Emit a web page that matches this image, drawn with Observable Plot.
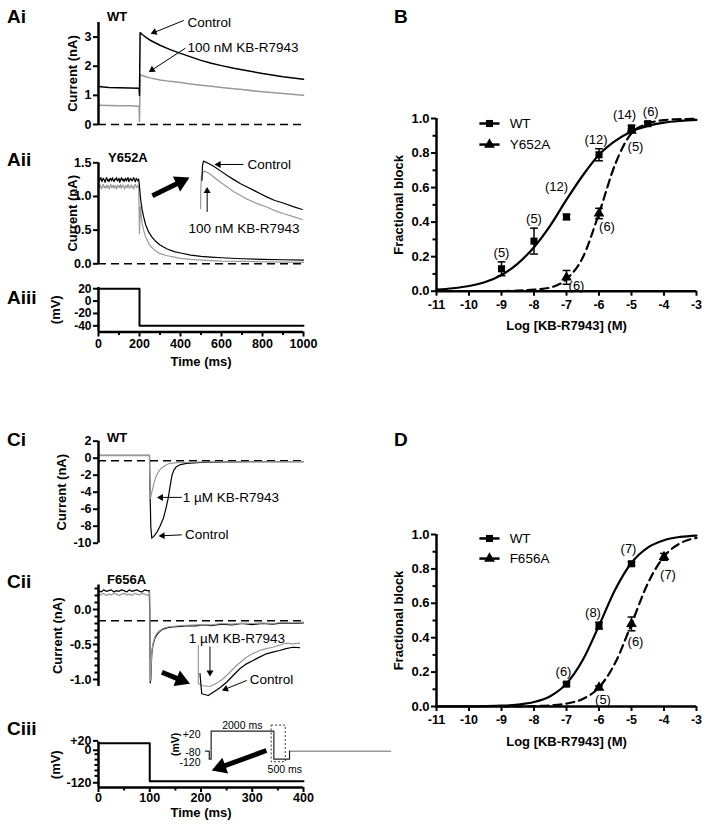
<!DOCTYPE html>
<html><head><meta charset="utf-8">
<script src="https://cdn.jsdelivr.net/npm/d3@7"></script>
<script src="https://cdn.jsdelivr.net/npm/@observablehq/plot@0.6"></script>
<style>
body{margin:0;background:#fff;}
#fig{position:relative;width:709px;height:828px;overflow:hidden;font-family:"Liberation Sans",Arial,sans-serif;background:#fff;}
.lab{position:absolute;font-weight:bold;line-height:1;transform:translateY(-50%);white-space:nowrap;color:#000;}
</style></head><body><div id="fig"></div>
<script>
// ================= DATA =================
// Ai : WT, control vs 100 nM KB-R7943 (time ms, current nA)
const aiTime    = [0, 50, 100, 150, 198, 200, 203, 215, 230, 250, 300, 350, 400, 450, 500, 550, 600, 660, 700, 800, 900, 1000];
const aiControl = [1.30, 1.27, 1.26, 1.25, 1.24, 1.00, 3.15, 3.08, 3.00, 2.90, 2.72, 2.57, 2.44, 2.32, 2.20, 2.10, 2.02, 1.93, 1.88, 1.75, 1.64, 1.55];
const aiDrug    = [0.66, 0.65, 0.64, 0.64, 0.63, 0.10, 1.70, 1.68, 1.64, 1.60, 1.53, 1.48, 1.44, 1.39, 1.35, 1.31, 1.27, 1.23, 1.20, 1.12, 1.06, 1.00];

// Aii : Y652A — noisy holding segment sampled every 4 ms, then the tail
const aiiBaseTime    = d3.range(0, 200, 4);
const aiiBaseControl = [1.27,1.23,1.26,1.28,1.22,1.25,1.27,1.24,1.21,1.26,1.28,1.23,1.25,1.22,1.27,1.26,1.23,1.28,1.24,1.22,1.26,1.25,1.28,1.23,1.24,1.27,1.21,1.25,1.28,1.24,1.26,1.22,1.25,1.27,1.23,1.26,1.28,1.22,1.24,1.27,1.25,1.23,1.26,1.28,1.24,1.22,1.27,1.25,1.23,1.26];
const aiiBaseDrug    = [1.16,1.12,1.17,1.14,1.11,1.16,1.18,1.13,1.15,1.12,1.17,1.14,1.16,1.11,1.15,1.18,1.13,1.14,1.17,1.12,1.16,1.15,1.11,1.17,1.14,1.16,1.13,1.18,1.12,1.15,1.17,1.14,1.11,1.16,1.15,1.13,1.18,1.14,1.12,1.16,1.17,1.13,1.15,1.11,1.16,1.18,1.14,1.13,1.17,1.15];
const aiiTailTime    = [200,204,208,213,220,230,245,260,280,300,335,370,400,450,500,550,600,700,800,900,1000];
const aiiTailControl = [1.15,1.00,0.90,0.80,0.70,0.58,0.47,0.40,0.33,0.28,0.22,0.18,0.16,0.13,0.11,0.10,0.09,0.075,0.065,0.06,0.055];
const aiiTailDrug    = [0.45,0.85,0.72,0.60,0.50,0.40,0.30,0.24,0.19,0.15,0.12,0.10,0.08,0.065,0.055,0.048,0.04,0.035,0.03,0.025,0.02];
// Aii inset (magnified tail, drawn in the panel's own units)
const aiiInsetTimeC = [505,507,512,530,562,595,628,660,693,725,758,790,823,860,904,950,994];
const aiiInsetC     = [1.24,1.45,1.525,1.50,1.45,1.38,1.31,1.25,1.19,1.14,1.09,1.04,0.99,0.94,0.90,0.85,0.807];
const aiiInsetTimeD = [498,499,502,510,518,540,562,595,628,660,693,725,758,790,823,860,904,950,994];
const aiiInsetD     = [0.82,1.10,1.30,1.36,1.376,1.34,1.29,1.21,1.14,1.07,1.015,0.96,0.915,0.875,0.84,0.79,0.743,0.70,0.658];

// Aiii : voltage protocol
const aiiiTime = [0, 200, 200, 1000];
const aiiiVolt = [20, 20, -40, -40];

// B : concentration-response, WT vs Y652A
const bLogConc   = [-9, -8, -7, -6, -5, -4.5];
const bWTBlock   = [0.13, 0.29, 0.43, 0.79, 0.945, 0.97];
const bWTErr     = [0.04, 0.075, 0.015, 0.035, 0.015, 0.01];
const bWTn       = [5, 5, 12, 12, 14, 6];
const bYLogConc  = [-7, -6, -5];
const bYBlock    = [0.08, 0.45, 0.93];
const bYErr      = [0.04, 0.03, 0.01];
const bYn        = [6, 6, 5];
const fitLogConc = [-11,-10.5,-10,-9.5,-9,-8.5,-8,-7.5,-7,-6.5,-6,-5.5,-5,-4.5,-4,-3.5,-3];
const bWTFit     = [0.009,0.017,0.03,0.053,0.094,0.16,0.255,0.38,0.53,0.67,0.79,0.87,0.925,0.957,0.976,0.986,0.992];
const bYFit      = [null,null,null,null,0.001,0.003,0.009,0.021,0.07,0.195,0.45,0.736,0.915,0.97,0.991,0.996,0.999];

// Ci : WT tail current, control vs 1 µM KB-R7943
const ciTime    = [0, 99.5, 100, 102, 104, 108, 115, 120, 127, 132, 136, 140, 143, 147, 152, 160, 172, 200, 250, 300, 400];
const ciControl = [0.35, 0.35, -2.0, -8.0, -9.4, -9.2, -8.6, -8.0, -7.0, -5.8, -4.7, -3.2, -2.1, -1.4, -1.0, -0.75, -0.6, -0.5, -0.45, -0.42, -0.4];
const ciDrugTime = [0, 99.5, 100, 101.5, 104, 108, 112, 117, 122, 130, 139, 160, 200, 300, 400];
const ciDrug     = [0.3, 0.3, -2.0, -4.7, -4.0, -3.0, -2.2, -1.6, -1.2, -0.85, -0.6, -0.5, -0.45, -0.42, -0.4];

// Cii : F656A
const ciiTime    = [0,5,10,15,20,25,30,35,40,45,50,55,60,65,70,75,80,85,90,95,99,100,101,102,103,104,106,108,110,114,120,126,135,145,160,175,190,205,220,240,260,280,300,320,340,360,380,400];
const ciiControl = [0.27,0.25,0.28,0.26,0.27,0.28,0.25,0.27,0.26,0.28,0.27,0.25,0.28,0.26,0.27,0.28,0.26,0.25,0.28,0.27,0.27,0.0,-1.05,-1.0,-0.8,-0.62,-0.52,-0.46,-0.41,-0.36,-0.31,-0.28,-0.26,-0.25,-0.24,-0.23,-0.235,-0.22,-0.23,-0.21,-0.22,-0.2,-0.215,-0.2,-0.21,-0.19,-0.2,-0.19];
const ciiDrug    = [0.22,0.21,0.23,0.2,0.22,0.21,0.23,0.22,0.2,0.22,0.23,0.21,0.22,0.2,0.23,0.22,0.21,0.23,0.22,0.2,0.22,0.25,-1.02,-0.95,-0.75,-0.6,-0.5,-0.44,-0.39,-0.34,-0.3,-0.27,-0.25,-0.24,-0.23,-0.225,-0.22,-0.215,-0.22,-0.2,-0.21,-0.195,-0.2,-0.19,-0.2,-0.185,-0.19,-0.18];
// Cii inset (magnified tail)
const ciiInsetTimeC = [198,201.4,214.2,223.9,236.9,249.9,262.7,275.7,288,301.6,314,327.6,340,353.4,366,379.2,392.2];
const ciiInsetC     = [-0.914,-1.204,-1.229,-1.181,-1.119,-1.039,-0.943,-0.847,-0.78,-0.729,-0.68,-0.633,-0.61,-0.586,-0.56,-0.539,-0.545];
const ciiInsetTimeD = [194.8,194.8,201.4,217.5,230.5,243.3,256.3,269.3,288.7,301,314.6,327,340.4,353,366.4,379,392.2];
const ciiInsetD     = [-0.514,-1.057,-1.086,-1.1,-1.053,-0.99,-0.896,-0.8,-0.681,-0.63,-0.586,-0.56,-0.539,-0.51,-0.481,-0.49,-0.481];

// Ciii : protocol and inset protocol
const ciiiTime = [0, 100, 100, 400];
const ciiiVolt = [20, 20, -120, -120];
const protoTime = [0, 120, 120, 180, 180, 2180, 2180, 2680, 2680];
const protoVolt = [-80, -80, -120, -120, 20, 20, -120, -120, -80];
const protoTailTime = [2680, 5900];
const protoTailVolt = [-80, -80];

// D : concentration-response, WT vs F656A
const dWTLogConc = [-7, -6, -5];
const dWTBlock   = [0.13, 0.47, 0.83];
const dWTErr     = [0.01, 0.02, 0.01];
const dWTn       = [6, 8, 7];
const dFLogConc  = [-6, -5, -4];
const dFBlock    = [0.11, 0.48, 0.87];
const dFErr      = [0.01, 0.04, 0.02];
const dFn        = [5, 6, 7];
const dWTFit     = [0.0001,0.0003,0.0008,0.0019,0.0046,0.011,0.026,0.06,0.133,0.27,0.47,0.68,0.836,0.924,0.967,0.986,0.994];
const dFFit      = [null,null,null,null,0.0003,0.0008,0.0023,0.006,0.017,0.044,0.111,0.254,0.48,0.715,0.872,0.949,0.98];

// ================= HELPERS =================
const FONT = '"Liberation Sans", Arial, Helvetica, sans-serif';
const fig = document.getElementById("fig");
const style = {fontFamily: FONT, background: "transparent", overflow: "visible", color: "#000"};
const zip = (xs, ys) => xs.map((x, i) => ({x, y: ys[i]})).filter(d => d.y != null);
function place(node, left, top) { node.style.position = "absolute"; node.style.left = left + "px"; node.style.top = top + "px"; fig.appendChild(node); }
function label(text, x, y, size, bold = true) {
  const d = document.createElement("div"); d.className = "lab"; d.textContent = text;
  d.style.left = x + "px"; d.style.top = y + "px"; d.style.fontSize = size + "px"; d.style.fontWeight = bold ? "bold" : "normal";
  fig.appendChild(d);
}
const GRAY = "#999";
const yAx = (ticks, fmt, extra = {}) => Plot.axisY(ticks, {anchor: "left", tickSize: 5, tickPadding: 2, strokeWidth: 2, fontSize: 12.5, fontWeight: "bold", fill: "#000", label: null, tickFormat: fmt, ...extra});
const yMinor = (ticks) => Plot.axisY(ticks, {anchor: "left", tickSize: 3.5, strokeWidth: 2, label: null, tickFormat: () => ""});
const xAx = (ticks, fmt, extra = {}) => Plot.axisX(ticks, {anchor: "bottom", tickSize: 5, tickPadding: 2, strokeWidth: 2, fontSize: 12.5, fontWeight: "bold", fill: "#000", label: null, tickFormat: fmt, ...extra});
const xMinor = (ticks) => Plot.axisX(ticks, {anchor: "bottom", tickSize: 3.5, strokeWidth: 2, label: null, tickFormat: () => ""});
const yTitle = (t, dx, size = 13) => Plot.text([t], {frameAnchor: "left", textAnchor: "middle", lineAnchor: "middle", dx, rotate: -90, fontWeight: "bold", fontSize: size, fill: "#000"});
const xTitle = (t, dy) => Plot.text([t], {frameAnchor: "bottom", textAnchor: "middle", lineAnchor: "middle", dy, fontWeight: "bold", fontSize: 13, fill: "#000"});
const note = (t, x, y, o = {}) => Plot.text([t], {x: () => x, y: () => y, fontSize: 13.5, fill: "#000", ...o});
const int = d => String(d);
const fix1 = d => d.toFixed(1);

// arrows with filled triangular heads; kx, ky = pixels per data unit of the panel
function arrowKit(kx, ky) {
  const make = (a, w, r) => {
    const [x1, y1, x2, y2] = a;
    const px = (x2 - x1) * kx, py = -(y2 - y1) * ky;
    const L = Math.hypot(px, py), ux = px / L, uy = py / L;
    const back = 1.556 * r;
    const cx = x2 - ux * back / kx, cy = y2 + uy * back / ky;
    const ang = Math.atan2(py, px) * 180 / Math.PI + 90;
    return [
      Plot.link([0], {x1: () => x1, y1: () => y1, x2: () => cx, y2: () => cy, strokeWidth: w, stroke: "#000"}),
      Plot.dot([0], {x: () => cx, y: () => cy, symbol: "triangle", r, fill: "#000", stroke: "none", rotate: ang})
    ];
  };
  return {thin: a => make(a, 1, 2.6), thick: a => make(a, 5, 6.2)};
}
function panel(c, marksFn, left, top) {
  const kx = (c.width - c.ml - c.mr) / (c.x[1] - c.x[0]);
  const ky = (c.height - c.mt - c.mb) / (c.y[1] - c.y[0]);
  place(Plot.plot({
    width: c.width, height: c.height, marginLeft: c.ml, marginRight: c.mr, marginTop: c.mt, marginBottom: c.mb,
    x: {domain: c.x, axis: null}, y: {domain: c.y, axis: null}, style,
    marks: marksFn(arrowKit(kx, ky))
  }), left, top);
}

function doseMarks(sets, legend) {
  const m = [];
  for (const s of sets) {
    const pts = s.x.map((x, i) => ({x, y: s.y[i], lo: s.y[i] - s.e[i], hi: s.y[i] + s.e[i], n: s.n[i]}));
    m.push(Plot.ruleX(pts, {x: "x", y1: "lo", y2: "hi", strokeWidth: 1.5}));
    m.push(Plot.link(pts, {x1: d => d.x - 0.12, x2: d => d.x + 0.12, y1: "hi", y2: "hi", strokeWidth: 1.5}));
    m.push(Plot.link(pts, {x1: d => d.x - 0.12, x2: d => d.x + 0.12, y1: "lo", y2: "lo", strokeWidth: 1.5}));
    m.push(Plot.line(zip(fitLogConc, s.fit), {x: "x", y: "y", strokeWidth: 2.2, curve: "monotone-x", strokeDasharray: s.dash}));
    m.push(Plot.dot(pts, {x: "x", y: "y", symbol: s.symbol, r: s.r, fill: "#000"}));
    pts.forEach((p, i) => m.push(Plot.text([p], {x: "x", y: "y", text: d => `(${d.n})`, dx: s.ldx[i], dy: s.ldy[i], fontSize: 13, fill: "#000"})));
  }
  legend.forEach(l => {
    m.push(Plot.link([l], {x1: () => -9.68, x2: () => -9.06, y1: () => l.ly, y2: () => l.ly, strokeWidth: 2.5}));
    m.push(Plot.dot([l], {x: () => -9.37, y: () => l.ly, symbol: l.symbol, r: l.r, fill: "#000"}));
    m.push(Plot.text([l.name], {x: () => -8.75, y: () => l.ly, textAnchor: "start", fontSize: 13.5, fill: "#000"}));
  });
  m.push(Plot.ruleX([-11], {y1: 0, y2: 1, strokeWidth: 2.5}));
  m.push(Plot.ruleY([0], {x1: -11, x2: -3, strokeWidth: 2.5}));
  m.push(yMinor([0.1, 0.3, 0.5, 0.7, 0.9]));
  m.push(yAx([0, 0.2, 0.4, 0.6, 0.8, 1.0], fix1, {fontSize: 13}));
  m.push(xAx([-11, -10, -9, -8, -7, -6, -5, -4, -3], int, {tickPadding: 4}));
  m.push(yTitle("Fractional block", -38));
  m.push(xTitle("Log [KB-R7943] (M)", 35));
  return m;
}

// ================= PANEL Ai =================
panel({width: 330, height: 140, ml: 98, mr: 27, mt: 22, mb: 16, x: [0, 1000], y: [0, 3.5]}, A => [
  Plot.ruleY([0], {x1: 0, x2: 1000, strokeDasharray: "8,5", strokeWidth: 1.5}),
  Plot.line(zip(aiTime, aiDrug), {x: "x", y: "y", stroke: GRAY, strokeWidth: 1.5}),
  Plot.line(zip(aiTime, aiControl), {x: "x", y: "y", stroke: "#000", strokeWidth: 1.5}),
  Plot.ruleX([0], {y1: 0, y2: 3.5, strokeWidth: 2.5}),
  yAx([0, 1, 2, 3], int),
  yTitle("Current (nA)", -26),
  note("Control", 434, 3.51, {textAnchor: "start"}),
  ...A.thin([416, 3.57, 254, 3.11]),
  note("100 nM KB-R7943", 434, 2.65, {textAnchor: "start"}),
  ...A.thin([424, 2.62, 245, 1.8])
], 0, 0);

// ================= PANEL Aii =================
panel({width: 330, height: 140, ml: 98, mr: 27, mt: 22.3, mb: 16.7, x: [0, 1000], y: [0, 1.5]}, A => [
  Plot.ruleY([0], {x1: 0, x2: 1000, strokeDasharray: "8,5", strokeWidth: 1.5}),
  Plot.line(zip(aiiBaseTime, aiiBaseDrug).concat(zip(aiiTailTime, aiiTailDrug)), {x: "x", y: "y", stroke: GRAY, strokeWidth: 1.2}),
  Plot.line(zip(aiiBaseTime, aiiBaseControl).concat(zip(aiiTailTime, aiiTailControl)), {x: "x", y: "y", stroke: "#000", strokeWidth: 1.2}),
  Plot.line(zip(aiiInsetTimeD, aiiInsetD), {x: "x", y: "y", stroke: GRAY, strokeWidth: 1.2}),
  Plot.line(zip(aiiInsetTimeC, aiiInsetC), {x: "x", y: "y", stroke: "#000", strokeWidth: 1.2}),
  Plot.ruleX([0], {y1: 0, y2: 1.5, strokeWidth: 2.5}),
  yAx([0, 0.5, 1.0, 1.5], fix1),
  yTitle("Current (nA)", -26),
  ...A.thick([263, 1.01, 444, 1.28]),
  note("Control", 727, 1.475, {textAnchor: "start"}),
  ...A.thin([707, 1.475, 566, 1.475]),
  note("100 nM KB-R7943", 710, 0.52),
  ...A.thin([530, 0.77, 530, 1.14])
], 0, 140);

// ================= PANEL Aiii =================
panel({width: 330, height: 100, ml: 98, mr: 27, mt: 7, mb: 48.5, x: [0, 1000], y: [-50, 22]}, A => [
  Plot.line(zip(aiiiTime, aiiiVolt), {x: "x", y: "y", strokeWidth: 2}),
  Plot.ruleX([0], {y1: -50, y2: 22, strokeWidth: 2.5}),
  Plot.ruleY([-50], {x1: 0, x2: 1000, strokeWidth: 2.5}),
  yAx([20, 0, -20, -40], int, {fontSize: 12}),
  xMinor([100, 300, 500, 700, 900]),
  xAx([0, 200, 400, 600, 800, 1000], int),
  yTitle("(mV)", -43),
  xTitle("Time (ms)", 30)
], 0, 280);

// ================= PANEL B =================
panel({width: 354, height: 340, ml: 81, mr: 13, mt: 118, mb: 49.3, x: [-11, -3], y: [0, 1]}, A => doseMarks([
  {x: bLogConc, y: bWTBlock, e: bWTErr, n: bWTn, fit: bWTFit, symbol: "square", r: 4, dash: null,
   ldx: [0, 0, -10, -3, -7, 3], ldy: [-16, -22, -30, -15, -13, -12]},
  {x: bYLogConc, y: bYBlock, e: bYErr, n: bYn, fit: bYFit, symbol: "triangle", r: 4, dash: "8,5",
   ldx: [10, 8, 4], ldy: [8, 13, 16]}
], [{name: "WT", ly: 0.971, symbol: "square", r: 4}, {name: "Y652A", ly: 0.849, symbol: "triangle", r: 4}]), 355, 0);

// ================= PANEL Ci =================
panel({width: 330, height: 140, ml: 98, mr: 27, mt: 20.7, mb: 17.3, x: [0, 400], y: [-10, 2]}, A => [
  Plot.ruleY([-0.3], {x1: 0, x2: 400, strokeDasharray: "8,5", strokeWidth: 1.5}),
  Plot.line(zip(ciTime, ciControl), {x: "x", y: "y", stroke: "#000", strokeWidth: 1.2}),
  Plot.line(zip(ciDrugTime, ciDrug), {x: "x", y: "y", stroke: GRAY, strokeWidth: 1.2}),
  Plot.ruleX([0], {y1: -10, y2: 2, strokeWidth: 2.5}),
  yAx([2, 0, -2, -4, -6, -8, -10], int),
  yTitle("Current (nA)", -37),
  note("1 µM KB-R7943", 164.5, -4.7, {textAnchor: "start"}),
  ...A.thin([162.5, -4.61, 114, -4.61]),
  note("Control", 168.9, -9.02, {textAnchor: "start"}),
  ...A.thin([162.5, -9.02, 117.1, -9.14])
], 0, 420);

// ================= PANEL Cii =================
panel({width: 330, height: 140, ml: 98, mr: 27, mt: 24.5, mb: 14, x: [0, 400], y: [-1.1, 0.35]}, A => [
  Plot.ruleY([-0.16], {x1: 0, x2: 400, strokeDasharray: "8,5", strokeWidth: 1.5}),
  Plot.line(zip(ciiTime, ciiControl), {x: "x", y: "y", stroke: "#000", strokeWidth: 1.2}),
  Plot.line(zip(ciiTime, ciiDrug), {x: "x", y: "y", stroke: GRAY, strokeWidth: 1.2}),
  Plot.line(zip(ciiInsetTimeD, ciiInsetD), {x: "x", y: "y", stroke: GRAY, strokeWidth: 1.2}),
  Plot.line(zip(ciiInsetTimeC, ciiInsetC), {x: "x", y: "y", stroke: "#000", strokeWidth: 1.2}),
  Plot.ruleX([0], {y1: -1.1, y2: 0.35, strokeWidth: 2.5}),
  yMinor([0.3, 0.2, 0.1, -0.1, -0.2, -0.3, -0.4, -0.6, -0.7, -0.8, -0.9]),
  yAx([0, -0.5, -1.0], fix1),
  yTitle("Current (nA)", -41),
  note("1 µM KB-R7943", 269.9, -0.414),
  ...A.thin([217.5, -0.53, 217.5, -0.957]),
  note("Control", 295, -1.0, {textAnchor: "start"}),
  ...A.thin([289.3, -1.014, 240.8, -1.157]),
  ...A.thick([123.7, -0.896, 178.6, -1.061])
], 0, 560);

// ================= PANEL Ciii =================
panel({width: 330, height: 128, ml: 98, mr: 27, mt: 41.5, mb: 41, x: [0, 400], y: [-143, 25]}, A => [
  Plot.line(zip(ciiiTime, ciiiVolt), {x: "x", y: "y", strokeWidth: 2}),
  Plot.ruleX([0], {y1: -143, y2: 25, strokeWidth: 2.5}),
  Plot.ruleY([-143], {x1: 0, x2: 400, strokeWidth: 2.5}),
  yMinor([-20, -40, -60, -80, -100]),
  yAx([20], d => "+" + d, {dy: -2.5}),
  yAx([0, -120], int, {dy: 1.5}),
  xMinor([50, 150, 250, 350]),
  xAx([0, 100, 200, 300, 400], int, {tickPadding: 1}),
  yTitle("(mV)", -43),
  xTitle("Time (ms)", 25.5),
  ...A.thick([327.6, -6.3, 220.8, -80.4])
], 0, 700);

// Ciii inset protocol
panel({width: 250, height: 75, ml: 55, mr: 10, mt: 18.7, mb: 24.3, x: [0, 5900], y: [-130, 30]}, A => [
  Plot.rect([0], {x1: () => 2110, x2: () => 2560, y1: () => -135, y2: () => 48, fill: "none", stroke: "#333", strokeDasharray: "2,2", strokeWidth: 1}),
  Plot.line(zip(protoTailTime, protoTailVolt), {x: "x", y: "y", stroke: GRAY, strokeWidth: 1.5}),
  Plot.line(zip(protoTime, protoVolt), {x: "x", y: "y", stroke: "#222", strokeWidth: 1.2}),
  Plot.text(["2000 ms"], {x: () => 1174, y: () => 48.5, fontSize: 10.5, fill: "#000"}),
  Plot.text(["500 ms"], {x: () => 2528, y: () => -171.5, fontSize: 10.5, fill: "#000"}),
  Plot.text(["+20"], {frameAnchor: "left", y: () => 20, dx: -5, dy: 3, textAnchor: "end", lineAnchor: "middle", fontSize: 10.5, fill: "#000"}),
  Plot.text(["-80"], {frameAnchor: "left", y: () => -80, dx: -5, dy: 1, textAnchor: "end", lineAnchor: "middle", fontSize: 10.5, fill: "#000"}),
  Plot.text(["-120"], {frameAnchor: "left", y: () => -120, dx: -5, dy: 3.5, textAnchor: "end", lineAnchor: "middle", fontSize: 10.5, fill: "#000"}),
  Plot.text(["(mV)"], {frameAnchor: "left", y: () => -46, dx: -30, rotate: -90, textAnchor: "middle", lineAnchor: "middle", fontWeight: "bold", fontSize: 10.5, fill: "#000"})
], 150, 710);

// ================= PANEL D =================
panel({width: 354, height: 330, ml: 81, mr: 13, mt: 114, mb: 44, x: [-11, -3], y: [0, 1]}, A => doseMarks([
  {x: dWTLogConc, y: dWTBlock, e: dWTErr, n: dWTn, fit: dWTFit, symbol: "square", r: 4, dash: null,
   ldx: [-3, -6, -3], ldy: [-12, -13, -15]},
  {x: dFLogConc, y: dFBlock, e: dFErr, n: dFn, fit: dFFit, symbol: "triangle", r: 4, dash: "8,5",
   ldx: [4, 4, 4], ldy: [12, 18, 18]}
], [{name: "WT", ly: 0.977, symbol: "square", r: 4}, {name: "F656A", ly: 0.86, symbol: "triangle", r: 4}]), 355, 420);

// ================= PANEL LABELS =================
label("Ai", 7, 15.5, 19); label("WT", 107, 16, 13);
label("Aii", 7, 158.7, 19); label("Y652A", 108, 157, 13);
label("Aiii", 7, 296.7, 19);
label("B", 394, 16, 19);
label("Ci", 7, 438.7, 19); label("WT", 107, 436.7, 13);
label("Cii", 7, 581, 19); label("F656A", 107, 579, 13);
label("Ciii", 7, 727.5, 19);
label("D", 394, 438.5, 19);
</script></body></html>
